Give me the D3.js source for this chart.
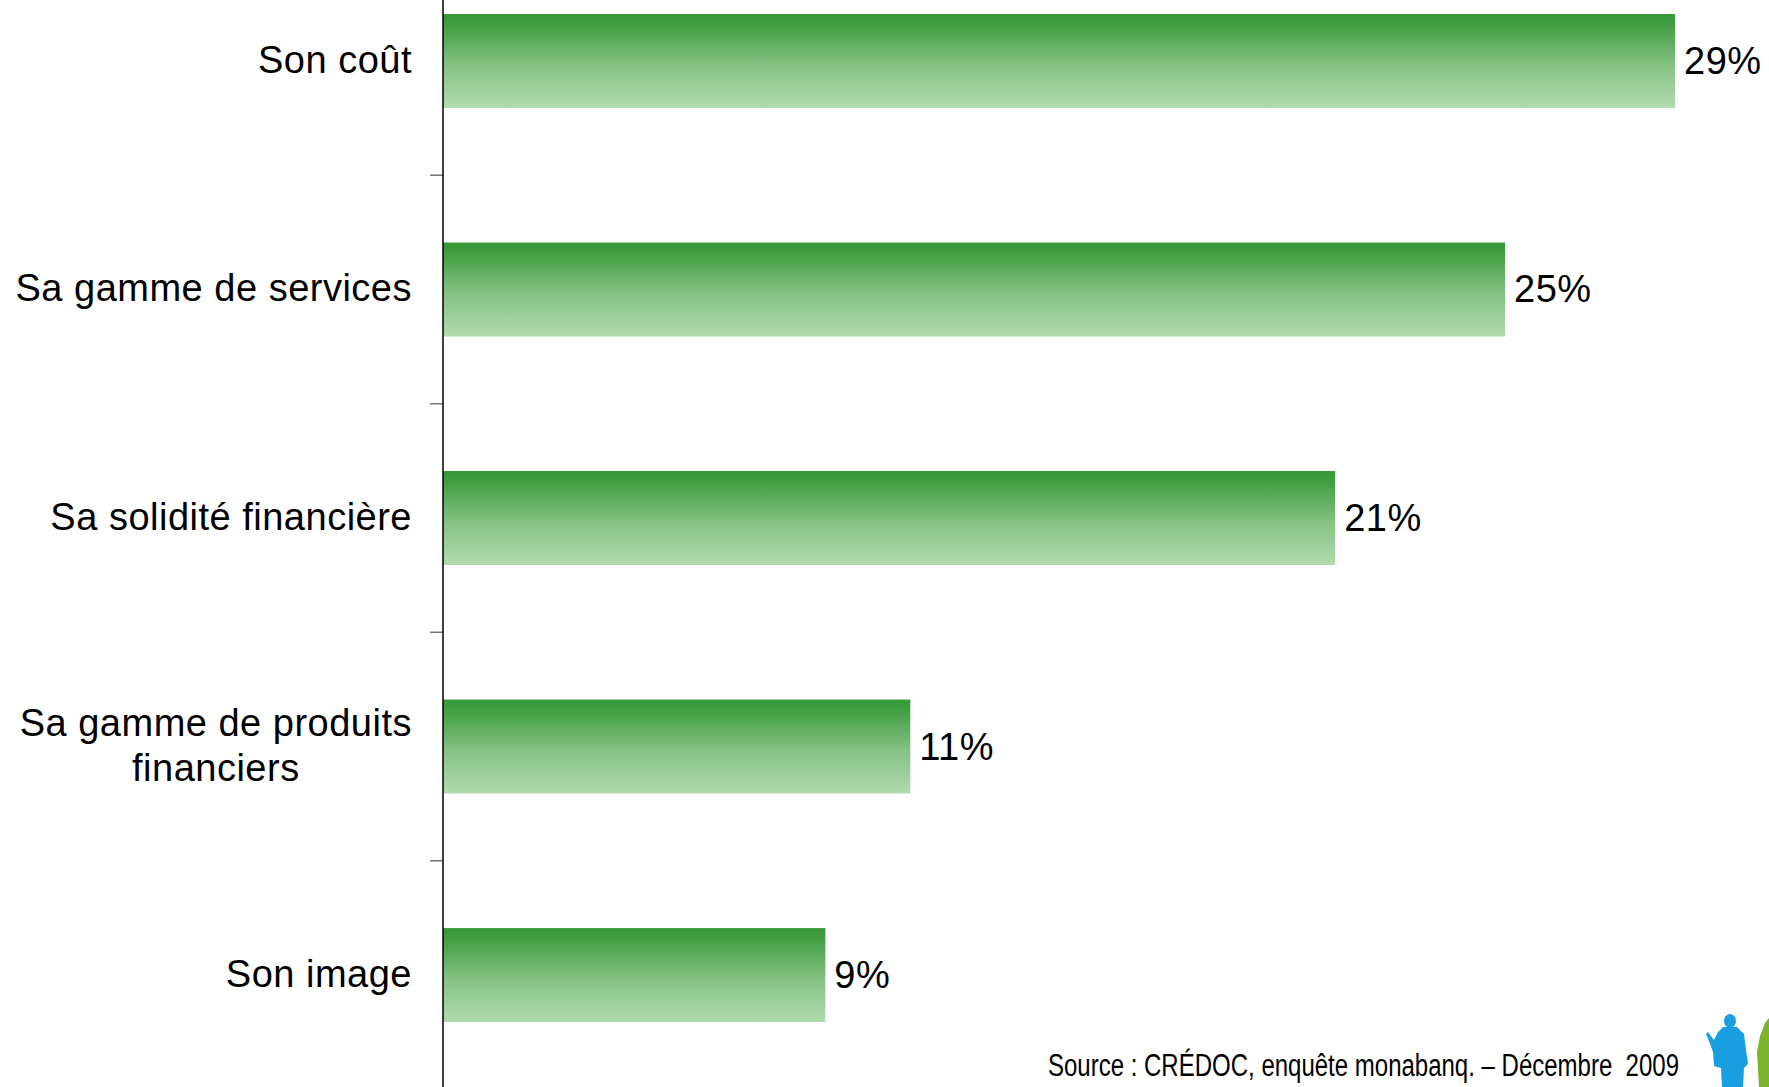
<!DOCTYPE html>
<html>
<head>
<meta charset="utf-8">
<script src="https://cdn.jsdelivr.net/npm/d3@7"></script>
<style>
  html, body { margin: 0; padding: 0; background: #ffffff; }
  svg { display: block; }
</style>
</head>
<body>
<svg id="chart" width="1769" height="1087"></svg>
<script>
// Critères de choix d'une banque (%)
const categories = [
  "Son coût",
  "Sa gamme de services",
  "Sa solidité financière",
  "Sa gamme de produits financiers",
  "Son image"
];
const labelLines = [
  ["Son coût"],
  ["Sa gamme de services"],
  ["Sa solidité financière"],
  ["Sa gamme de produits", "financiers"],
  ["Son image"]
];
const values = [29, 25, 21, 11, 9];
const sourceText = "Source : CRÉDOC, enquête monabanq. – Décembre  2009";

const W = 1769, H = 1087;
const axisX = 443;
const labelRight = 412;
const fontMain = "'Liberation Sans', Arial, sans-serif";
const svg = d3.select("#chart");

const x = d3.scaleLinear().domain([0, 29]).range([axisX, 1675]);
const y = d3.scaleBand().domain(categories)
  .range([-53.25, 1089.25])
  .paddingInner(0.589).paddingOuter(0.2943);

// vertical gradient used for every bar
const defs = svg.append("defs");
const grad = defs.append("linearGradient")
  .attr("id", "barGrad").attr("x1", 0).attr("y1", 0).attr("x2", 0).attr("y2", 1);
grad.append("stop").attr("offset", "0%").attr("stop-color", "#379937");
grad.append("stop").attr("offset", "10%").attr("stop-color", "#3f9d3f");
grad.append("stop").attr("offset", "55%").attr("stop-color", "#86c285");
grad.append("stop").attr("offset", "100%").attr("stop-color", "#b1dbae");

// bars
svg.append("g").selectAll("rect")
  .data(values)
  .join("rect")
  .attr("x", axisX)
  .attr("y", (d, i) => y(categories[i]))
  .attr("width", d => x(d) - axisX)
  .attr("height", y.bandwidth())
  .attr("fill", "url(#barGrad)");

// value labels
svg.append("g").selectAll("text")
  .data(values)
  .join("text")
  .attr("x", d => x(d) + 9)
  .attr("y", (d, i) => y(categories[i]) + y.bandwidth() / 2 + 13)
  .attr("font-family", fontMain)
  .attr("font-size", 38)
  .attr("letter-spacing", 0.5)
  .attr("fill", "#000")
  .text(d => d + "%");

// category axis: line plus ticks between bands
const step = y.step();
const boundaries = d3.range(1, categories.length)
  .map(i => y(categories[i]) - (step - y.bandwidth()) / 2);
const axisG = svg.append("g");
axisG.selectAll("line.tick")
  .data(boundaries)
  .join("line")
  .attr("class", "tick")
  .attr("x1", axisX - 13).attr("x2", axisX)
  .attr("y1", d => d).attr("y2", d => d)
  .attr("stroke", "#777").attr("stroke-width", 1.5);
axisG.append("line")
  .attr("x1", axisX).attr("x2", axisX)
  .attr("y1", 0).attr("y2", H)
  .attr("stroke", "#000").attr("stroke-width", 1.5);

// category labels: each block right-aligned, its lines centred on each other
const lblG = svg.append("g")
  .attr("font-family", fontMain)
  .attr("font-size", 38)
  .attr("letter-spacing", 0.5)
  .attr("fill", "#000");
const lh = 45;
labelLines.forEach((lines, i) => {
  const cy = y(categories[i]) + y.bandwidth() / 2;
  const t = lblG.append("text").attr("text-anchor", "middle");
  const y0 = cy + 12 - (lines.length - 1) * lh / 2;
  const spans = lines.map((ln, j) =>
    t.append("tspan").attr("x", 0).attr("y", y0 + j * lh).text(ln));
  const maxW = d3.max(spans, s => s.node().getComputedTextLength());
  const cx = labelRight - maxW / 2;
  spans.forEach(s => s.attr("x", cx));
});

// source note
svg.append("text")
  .attr("x", 1048)
  .attr("y", 1076)
  .attr("font-family", "'Liberation Sans Narrow', 'Arial Narrow', 'Liberation Sans', sans-serif")
  .attr("font-size", 31)
  .attr("fill", "#000")
  .attr("textLength", 631)
  .attr("lengthAdjust", "spacingAndGlyphs")
  .style("white-space", "pre")
  .text(sourceText);

// figures in the lower-right corner
const logo = svg.append("g");
logo.append("ellipse")
  .attr("cx", 1730).attr("cy", 1021).attr("rx", 6).attr("ry", 7)
  .attr("fill", "#1a9ee2");
logo.append("path")
  .attr("fill", "#1a9ee2")
  .attr("d", "M1723,1027 L1737,1027 L1744,1034 L1746,1050 L1748,1064 L1744,1068 L1743,1087 L1722,1087 L1721,1068 L1714,1066 L1713,1052 L1709,1041 L1706,1034 L1708,1032 L1714,1040 L1718,1032 Z");
logo.append("path")
  .attr("fill", "#7ab42e")
  .attr("d", "M1759,1087 L1757,1052 L1760,1036 L1765,1023 L1769,1018 L1769,1087 Z");
</script>
</body>
</html>
